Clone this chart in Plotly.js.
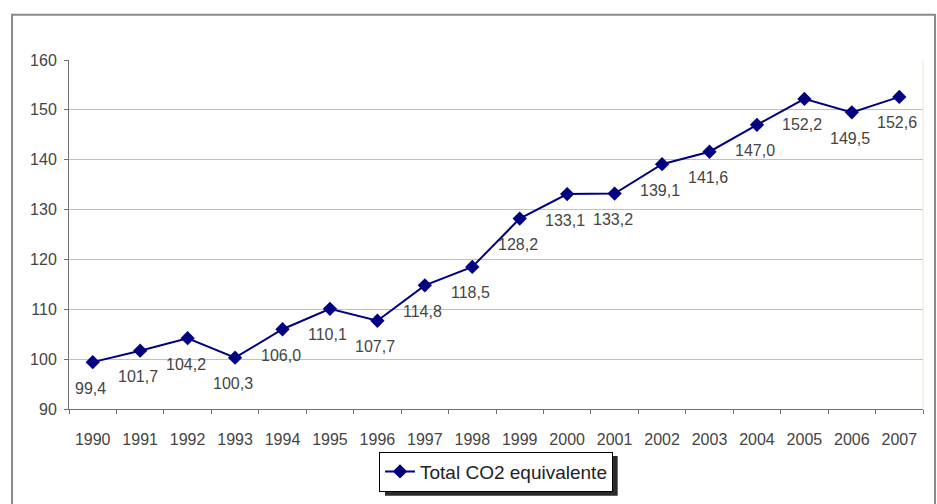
<!DOCTYPE html>
<html>
<head>
<meta charset="utf-8">
<script src="https://cdn.plot.ly/plotly-3.0.1.min.js"></script>
<style>html,body{margin:0;padding:0;background:#fff;}#chart{width:937px;height:504px;}</style>
</head>
<body>
<div id="chart"></div>
<script>
var years = ["1990","1991","1992","1993","1994","1995","1996","1997","1998","1999","2000","2001","2002","2003","2004","2005","2006","2007"];
var co2Total = [99.4,101.7,104.2,100.3,106.0,110.1,107.7,114.8,118.5,128.2,133.1,133.2,139.1,141.6,147.0,152.2,149.5,152.6];
var yTicks = [90,100,110,120,130,140,150,160];
var seriesName = "Total CO2 equivalente";

var labels = co2Total.map(function(v){ return v.toFixed(1).replace('.', ','); });

var trace = {
  x: years,
  y: co2Total,
  type: 'scatter',
  mode: 'lines+markers',
  name: seriesName,
  line: {color: '#000080', width: 2},
  marker: {symbol: 'diamond', size: 11, color: '#000080'},
  cliponaxis: false
};

var annots = years.map(function(yr, i){
  return {x: i, y: co2Total[i], xref: 'x', yref: 'y', text: labels[i],
          showarrow: false, yshift: -26, xshift: -2,
          font: {family: 'Liberation Sans, Arial, sans-serif', size: 16, color: '#444444'}};
});

var layout = {
  width: 937, height: 504,
  margin: {l: 69, r: 14, t: 60, b: 90},
  paper_bgcolor: '#ffffff',
  plot_bgcolor: '#ffffff',
  font: {family: 'Liberation Sans, Arial, sans-serif', size: 16, color: '#444444'},
  showlegend: true,
  legend: {
    orientation: 'h', x: 0.5, xanchor: 'center', y: -0.122, yanchor: 'top',
    bordercolor: '#000000', borderwidth: 1, bgcolor: '#ffffff',
    font: {size: 19, color: '#222222'}
  },
  xaxis: {
    type: 'category',
    range: [-0.5, 17.5],
    showgrid: false,
    showline: true, linecolor: '#707070', linewidth: 1,
    ticks: 'outside', tickson: 'boundaries', ticklen: 4, tickcolor: '#707070',
    tickfont: {size: 16, color: '#444444'},
    ticklabelstandoff: 16,
    zeroline: false
  },
  yaxis: {
    range: [90, 160],
    tickvals: yTicks,
    showgrid: true, gridcolor: '#c0c0c0', gridwidth: 1,
    showline: true, linecolor: '#707070', linewidth: 1,
    ticks: 'outside', ticklen: 4, tickcolor: '#707070',
    tickfont: {size: 16, color: '#444444'},
    ticklabelstandoff: 4,
    zeroline: false
  },
  annotations: annots,
  shapes: [
    {type: 'rect', xref: 'paper', yref: 'paper', x0: -0.0667, x1: 1.0141, y0: -0.30, y1: 1.130,
     line: {color: '#8a8a8a', width: 2}, fillcolor: 'rgba(0,0,0,0)', layer: 'below'},
    {type: 'line', xref: 'paper', yref: 'paper', x0: 1, x1: 1, y0: 0, y1: 1,
     line: {color: '#e6e6d0', width: 1}},
    {type: 'rect', xref: 'paper', yref: 'paper', x0: 0.370, x1: 0.6425, y0: -0.2485, y1: -0.135,
     line: {width: 0}, fillcolor: '#2a2a2a', layer: 'below'}
  ]
};

Plotly.newPlot('chart', [trace], layout, {displayModeBar: false, staticPlot: true});
</script>
</body>
</html>
